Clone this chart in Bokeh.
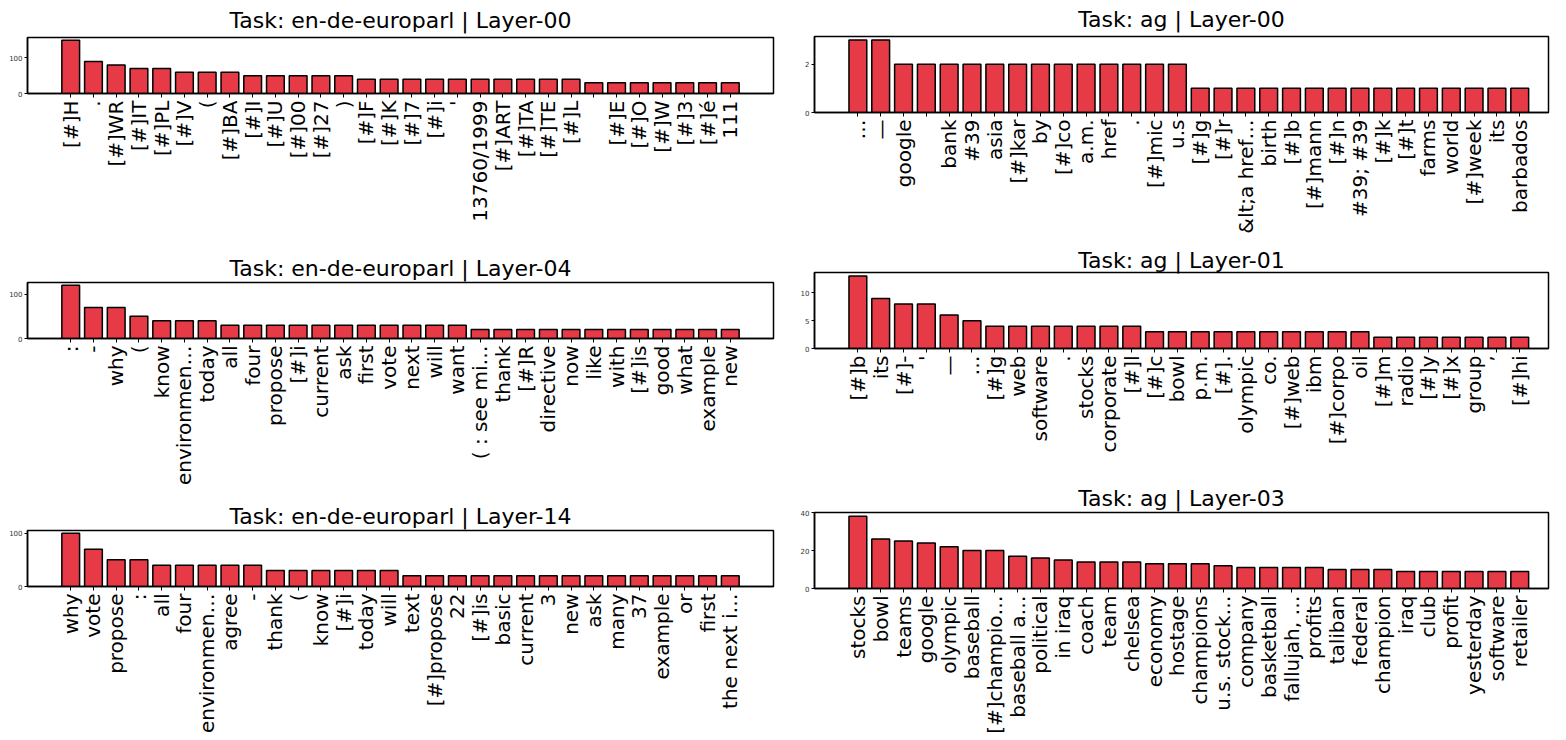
import math
from bokeh.plotting import figure
from bokeh.layouts import row, column
from bokeh.models import FixedTicker, Range1d
from bokeh.embed import file_html
from bokeh.resources import INLINE

# ---------------- data ----------------
europarl_l00_tokens = ["[#]H", ".", "[#]WR", "[#]IT", "[#]PL", "[#]V", "(", "[#]BA", "[#]I", "[#]U",
                       "[#]00", "[#]27", ")", "[#]F", "[#]K", "[#]7", "[#]i", "'", "13760/1999", "[#]ART",
                       "[#]TA", "[#]TE", "[#]L", " ", "[#]E", "[#]O", "[#]W", "[#]3", "[#]é", "111"]
europarl_l00_counts = [150, 90, 80, 70, 70, 60, 60, 60, 50, 50,
                       50, 50, 50, 40, 40, 40, 40, 40, 40, 40,
                       40, 40, 40, 30, 30, 30, 30, 30, 30, 30]
europarl_l00_yticks = [0, 100]

europarl_l04_tokens = [":", "-", "why", "(", "know", "environmen…", "today", "all", "four", "propose",
                       "[#]i", "current", "ask", "first", "vote", "next", "will", "want", "( : see mi…", "thank",
                       "[#]R", "directive", "now", "like", "with", "[#]is", "good", "what", "example", "new"]
europarl_l04_counts = [120, 70, 70, 50, 40, 40, 40, 30, 30, 30,
                       30, 30, 30, 30, 30, 30, 30, 30, 20, 20,
                       20, 20, 20, 20, 20, 20, 20, 20, 20, 20]
europarl_l04_yticks = [0, 100]

europarl_l14_tokens = ["why", "vote", "propose", ":", "all", "four", "environmen…", "agree", "-", "thank",
                       "(", "know", "[#]i", "today", "will", "text", "[#]propose", "22", "[#]is", "basic",
                       "current", "3", "new", "ask", "many", "37", "example", "or", "first", "the next i…"]
europarl_l14_counts = [100, 70, 50, 50, 40, 40, 40, 40, 40, 30,
                       30, 30, 30, 30, 30, 20, 20, 20, 20, 20,
                       20, 20, 20, 20, 20, 20, 20, 20, 20, 20]
europarl_l14_yticks = [0, 100]

ag_l00_tokens = ["…", "—", "google", " ", "bank", "#39", "asia", "[#]kar", "by", "[#]co",
                 "a.m.", "href", ".", "[#]mic", "u.s", "[#]g", "[#]r", "&lt;a href…", "birth", "[#]b",
                 "[#]mann", "[#]n", "#39; #39", "[#]k", "[#]t", "farms", "world", "[#]week", "its", "barbados"]
ag_l00_counts = [3, 3, 2, 2, 2, 2, 2, 2, 2, 2,
                 2, 2, 2, 2, 2, 1, 1, 1, 1, 1,
                 1, 1, 1, 1, 1, 1, 1, 1, 1, 1]
ag_l00_yticks = [0, 2]

ag_l01_tokens = ["[#]b", "its", "[#]-", "'", "—", "…", "[#]g", "web", "software", ".",
                 "stocks", "corporate", "[#]l", "[#]c", "bowl", "p.m.", "[#].", "olympic", "co.", "[#]web",
                 "ibm", "[#]corpo", "oil", "[#]m", "radio", "[#]y", "[#]x", "group", "’", "[#]hi"]
ag_l01_counts = [13, 9, 8, 8, 6, 5, 4, 4, 4, 4,
                 4, 4, 4, 3, 3, 3, 3, 3, 3, 3,
                 3, 3, 3, 2, 2, 2, 2, 2, 2, 2]
ag_l01_yticks = [0, 5, 10]

ag_l03_tokens = ["stocks", "bowl", "teams", "google", "olympic", "baseball", "[#]champio…", "baseball a…", "political", "in iraq",
                 "coach", "team", "chelsea", "economy", "hostage", "champions", "u.s. stock…", "company", "basketball", "fallujah, …",
                 "profits", "taliban", "federal", "champion", "iraq", "club", "profit", "yesterday", "software", "retailer"]
ag_l03_counts = [38, 26, 25, 24, 22, 20, 20, 17, 16, 15,
                 14, 14, 14, 13, 13, 13, 12, 11, 11, 11,
                 11, 10, 10, 10, 9, 9, 9, 9, 9, 9]
ag_l03_yticks = [0, 20, 40]

BAR_COLOR = "#e63a46"
FONT = "DejaVu Sans"


def make_panel(title, tokens, counts, yticks, frame_w, frame_h, b_left, b_right, b_top, b_bottom,
               x_start, x_end, standoff=3):
    n = len(tokens)
    xs = list(range(n))
    y_end = max(max(counts) * 1.05, max(yticks))
    p = figure(frame_width=frame_w, frame_height=frame_h,
               min_border_left=b_left, min_border_right=b_right,
               min_border_top=b_top, min_border_bottom=b_bottom,
               x_range=Range1d(x_start, x_end), y_range=Range1d(0, y_end),
               output_backend="svg", toolbar_location=None,
               background_fill_color="white", border_fill_color="white")
    p.vbar(x=xs, top=counts, bottom=0, width=0.78, fill_color=BAR_COLOR,
           line_color="black", line_width=1.5)
    p.title.text = title
    p.title.align = "center"
    p.title.text_font = FONT
    p.title.text_font_size = "22px"
    p.title.text_font_style = "normal"
    p.title.text_color = "black"
    p.title.standoff = standoff
    p.xgrid.visible = False
    p.ygrid.visible = False
    p.outline_line_color = "black"
    p.outline_line_width = 1.5

    xa = p.xaxis[0]
    xa.ticker = FixedTicker(ticks=xs)
    xa.major_label_overrides = {i: t for i, t in enumerate(tokens)}
    xa.major_label_orientation = math.pi / 2
    xa.major_label_text_font = FONT
    xa.major_label_text_font_size = "20px"
    xa.major_label_text_color = "black"
    xa.major_label_standoff = 3
    xa.major_tick_in = 0
    xa.major_tick_out = 4
    xa.minor_tick_line_color = None
    xa.axis_line_color = "black"
    xa.axis_line_width = 1.5

    ya = p.yaxis[0]
    ya.ticker = FixedTicker(ticks=yticks)
    ya.major_label_text_font = FONT
    ya.major_label_text_font_size = "7px"
    ya.major_label_text_color = "#333333"
    ya.major_label_standoff = 2
    ya.major_tick_in = 0
    ya.major_tick_out = 3
    ya.minor_tick_line_color = None
    ya.axis_line_color = "black"
    ya.axis_line_width = 1.5
    return p


LW, RW = 746, 734
L1 = make_panel("Task: en-de-europarl | Layer-00", europarl_l00_tokens, europarl_l00_counts, europarl_l00_yticks,
                LW, 56, 27, 20, 36, 158, -1.9, 30.9, standoff=10)
L2 = make_panel("Task: en-de-europarl | Layer-04", europarl_l04_tokens, europarl_l04_counts, europarl_l04_yticks,
                LW, 56, 27, 20, 30, 161, -1.9, 30.9, standoff=4)
L3 = make_panel("Task: en-de-europarl | Layer-14", europarl_l14_tokens, europarl_l14_counts, europarl_l14_yticks,
                LW, 56, 27, 20, 30, 148, -1.9, 30.9, standoff=4)

R1 = make_panel("Task: ag | Layer-00", ag_l00_tokens, ag_l00_counts, ag_l00_yticks,
                RW, 76, 21, 3, 35, 129, -1.9, 30.26, standoff=9)
R2 = make_panel("Task: ag | Layer-01", ag_l01_tokens, ag_l01_counts, ag_l01_yticks,
                RW, 76, 21, 3, 31, 134, -1.9, 30.26, standoff=0)
R3 = make_panel("Task: ag | Layer-03", ag_l03_tokens, ag_l03_counts, ag_l03_yticks,
                RW, 76, 21, 3, 28, 146, -1.9, 30.26, standoff=3)

layout = row(column(L1, L2, L3), column(R1, R2, R3))

open("out.html", "w").write(file_html(layout, INLINE))
